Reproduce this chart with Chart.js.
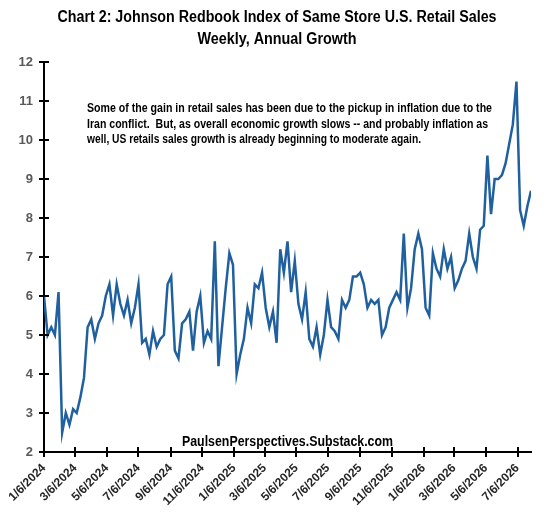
<!DOCTYPE html>
<html>
<head>
<meta charset="utf-8">
<title>Johnson Redbook Index</title>
<script src="https://cdn.jsdelivr.net/npm/chart.js@4.4.1/dist/chart.umd.min.js"></script>
<style>
  html, body { margin: 0; padding: 0; background: #fff; }
</style>
</head>
<body>
<canvas id="redbook" width="553" height="515"></canvas>
<script>
var titleLines = [
    'Chart 2: Johnson Redbook Index of Same Store U.S. Retail Sales',
    'Weekly, Annual Growth'
];
var noteLines = [
    'Some of the gain in retail sales has been due to the pickup in inflation due to the',
    'Iran conflict.  But, as overall economic growth slows -- and probably inflation as',
    'well, US retails sales growth is already beginning to moderate again.'
];
var sourceText = 'PaulsenPerspectives.Substack.com';

// weekly readings, first week ending 1/6/2024
var firstWeek = '2024-01-06';
var growth = [
    6.0, 5.0, 5.2, 5.0, 6.1, 2.5, 3.0, 2.7, 3.1, 3.0,
    3.4, 3.9, 5.2, 5.4, 4.9, 5.3, 5.5, 6.0, 6.3, 5.5,
    6.3, 5.8, 5.5, 5.9, 5.3, 5.7, 6.3, 4.8, 4.9, 4.5,
    5.1, 4.7, 4.9, 5.0, 6.3, 6.5, 4.6, 4.4, 5.3, 5.4,
    5.6, 4.6, 5.6, 6.0, 4.8, 5.1, 4.9, 7.4, 4.2, 5.2,
    6.2, 7.1, 6.8, 4.0, 4.5, 4.9, 5.7, 5.3, 6.3, 6.2,
    6.6, 5.7, 5.2, 5.6, 4.8, 7.2, 6.6, 7.4, 6.1, 6.9,
    5.8, 5.4, 6.1, 4.9, 4.7, 5.2, 4.5, 5.0, 5.9, 5.2,
    5.1, 4.9, 5.9, 5.7, 5.9, 6.5, 6.5, 6.6, 6.3, 5.7,
    5.9, 5.8, 5.9, 5.0, 5.2, 5.7, 5.9, 6.1, 5.9, 7.6,
    5.7, 6.2, 7.2, 7.6, 7.2, 5.7, 5.5, 7.1, 6.7, 6.5,
    7.2, 6.7, 7.0, 6.2, 6.4, 6.7, 6.9, 7.6, 7.0, 6.7,
    7.7, 7.8, 9.6, 8.1, 9.0, 9.0, 9.1, 9.4, 9.9, 10.4,
    11.5, 8.2, 7.8, 8.3, 8.7
];
var tickLabels = [
    '1/6/2024', '3/6/2024', '5/6/2024', '7/6/2024', '9/6/2024', '11/6/2024',
    '1/6/2025', '3/6/2025', '5/6/2025', '7/6/2025', '9/6/2025', '11/6/2025',
    '1/6/2026', '3/6/2026', '5/6/2026', '7/6/2026'
];
var yMin = 2, yMax = 12;

var DAY = 86400000;
var start = Date.parse(firstWeek + 'T00:00:00Z');
function dayOf(label) {
    var p = label.split('/');
    return Math.round((Date.UTC(+p[2], +p[0] - 1, +p[1]) - start) / DAY);
}
var points = growth.map(function (v, i) { return { x: i * 7, y: v }; });
var tickDays = tickLabels.map(dayOf);

var plain = '"Liberation Sans", Arial, sans-serif';

// no narrow bold face installed, so squeeze Liberation Sans Bold horizontally
function condensedText(c, text, x, y, width, align) {
    var k = width / c.measureText(text).width;
    var left = align === 'center' ? x - width / 2 : x;
    c.save();
    c.translate(left, y);
    c.scale(k, 1);
    c.textAlign = 'left';
    c.fillText(text, 0, 0);
    c.restore();
}

// axis ticks in the Excel style: they cross the axis line
var crossTicks = {
    id: 'crossTicks',
    afterDraw: function (chart) {
        var c = chart.ctx, a = chart.chartArea, x = chart.scales.x, y = chart.scales.y;
        c.save();
        c.strokeStyle = '#000';
        c.lineWidth = 2;
        c.beginPath();
        y.ticks.forEach(function (t) {
            var py = Math.round(y.getPixelForValue(t.value));
            c.moveTo(a.left - 5, py);
            c.lineTo(a.left + 5, py);
        });
        x.ticks.forEach(function (t) {
            var px = Math.round(x.getPixelForValue(t.value));
            c.moveTo(px, a.bottom - 5);
            c.lineTo(px, a.bottom + 5);
        });
        c.stroke();
        c.restore();
    }
};

var textLayer = {
    id: 'textLayer',
    afterDraw: function (chart) {
        var c = chart.ctx, a = chart.chartArea;
        c.save();
        c.fillStyle = '#000';
        c.textBaseline = 'middle';
        c.font = 'bold 16px ' + plain;
        condensedText(c, titleLines[0], 277, 18, 439, 'center');
        condensedText(c, titleLines[1], 277, 39.5, 159, 'center');
        c.font = 'bold 14px ' + plain;
        condensedText(c, sourceText, (a.left + a.right) / 2, a.bottom - 10, 211, 'center');
        c.font = 'bold 12px ' + plain;
        var noteWidths = [405, 401, 334];
        noteLines.forEach(function (line, k) {
            condensedText(c, line, a.left + 43, a.top + 47 + k * 15.5, noteWidths[k], 'left');
        });
        c.restore();
    }
};

var ctx = document.getElementById('redbook').getContext('2d');
var redbookChart = new Chart(ctx, {
    type: 'line',
    data: {
        datasets: [{
            data: points,
            borderColor: '#21609F',
            borderWidth: 2.5,
            pointRadius: 0,
            tension: 0,
            fill: false
        }]
    },
    options: {
        responsive: false,
        animation: false,
        layout: { padding: { top: 62, right: 22, bottom: 0, left: 0 } },
        plugins: {
            legend: { display: false },
            tooltip: { enabled: false }
        },
        scales: {
            x: {
                type: 'linear',
                min: 0,
                max: points[points.length - 1].x,
                afterBuildTicks: function (scale) {
                    scale.ticks = tickDays.map(function (d) { return { value: d }; });
                },
                afterFit: function (scale) { scale.height = 63; },
                grid: { drawOnChartArea: false, drawTicks: false },
                border: { color: '#000', width: 2 },
                ticks: {
                    autoSkip: false,
                    minRotation: 45,
                    maxRotation: 45,
                    padding: 9,
                    color: '#262626',
                    font: { family: plain, size: 12, weight: 'bold' },
                    callback: function (value) {
                        var i = tickDays.indexOf(value);
                        return i >= 0 ? tickLabels[i] : '';
                    }
                }
            },
            y: {
                min: yMin,
                max: yMax,
                afterFit: function (scale) { scale.width = 44; },
                grid: { drawOnChartArea: false, drawTicks: false },
                border: { color: '#000', width: 2 },
                ticks: {
                    stepSize: 1,
                    padding: 11,
                    color: '#595959',
                    font: { family: plain, size: 13, weight: 'bold' }
                }
            }
        }
    },
    plugins: [crossTicks, textLayer]
});
</script>
</body>
</html>
